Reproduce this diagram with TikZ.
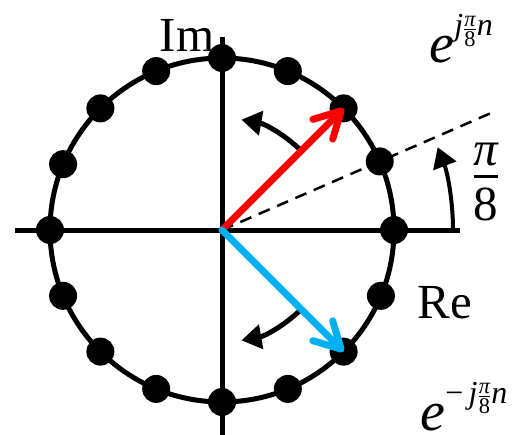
\documentclass[tikz,border=0pt]{standalone}
\usepackage{amsmath}
\usepackage{fontspec}
\setmainfont{Liberation Serif}
\usetikzlibrary{arrows.meta}
\definecolor{phasered}{RGB}{255,0,0}
\definecolor{phaseblue}{RGB}{0,176,240}
\newcommand{\itx}[1]{\text{\itshape #1}}
\newcommand{\phexp}[1]{{\itshape e}\raisebox{27pt}{\fontsize{32}{38}\selectfont #1$\itx{j}\genfrac{}{}{1.2pt}{1}{\itx{π}}{\text{8}}\itx{n}$}}
\tikzset{
	dot/.style={circle,fill=black,inner sep=0pt,minimum size=28pt},
	lbl/.style={font=\fontsize{49}{58}\selectfont,inner sep=0pt},
	turn/.style={-{Triangle[length=20pt,width=24pt]}},
	phasor/.style={line width=7pt,line cap=round,-{Straight Barb[length=26pt,width=28pt,round]}},
}
\begin{document}
\begin{tikzpicture}[x=1pt,y=1pt,line width=5pt]
	\useasboundingbox (-222,-204) rectangle (304,230);
	\coordinate (o) at (0,0);
	\coordinate (xl) at (-207,0);
	\coordinate (xr) at (238,0);
	\coordinate (yb) at (0,-210);
	\coordinate (yt) at (0,193);
	\coordinate (dend) at (23.5:294);
	
	\draw (xl)--(xr);
	\draw (yb)--(yt);
	\draw (o) circle (172);
	\draw[line width=2.5pt,dash pattern=on 12pt off 8pt] (o)--(dend);
	
	\node[dot] (d0) at (0:172) {};
	\node[dot] (d1) at (23.5:172) {};
	\node[dot] (d2) at (45:172) {};
	\node[dot] (d3) at (67.5:172) {};
	\node[dot] (d4) at (90:172) {};
	\node[dot] (d5) at (112.5:172) {};
	\node[dot] (d6) at (135:172) {};
	\node[dot] (d7) at (157.5:172) {};
	\node[dot] (d8) at (180:172) {};
	\node[dot] (d9) at (202.5:172) {};
	\node[dot] (d10) at (225:172) {};
	\node[dot] (d11) at (247.5:172) {};
	\node[dot] (d12) at (270:172) {};
	\node[dot] (d13) at (292.5:172) {};
	\node[dot] (d14) at (315:172) {};
	\node[dot] (d15) at (337.5:172) {};
	
	\node[lbl,anchor=base] (im) at (-35,178) {Im};
	\node[lbl,anchor=base] (re) at (223,-88) {Re};
	\node[lbl,anchor=base west,font=\fontsize{56}{60}\selectfont] (ep) at (205,167) {\phexp{}};
	\node[lbl,anchor=base west,font=\fontsize{56}{60}\selectfont] (em) at (196,-200) {\phexp{−\,}};
	\node[lbl] (ang) at (264,48) {$\genfrac{}{}{3pt}{0}{\itx{π}}{\text{8}}$};
	
	\draw[turn] (45:112) arc (45:80:112);
	\draw[turn] (-45:112) arc (-45:-80:112);
	\draw[turn,line width=4pt] (0:231) arc (0:21:231);
	
	\draw[phasor,phasered] (o)--(d2.center);
	\draw[phasor,phaseblue] (o)--(d14.center);
\end{tikzpicture}
\end{document}
